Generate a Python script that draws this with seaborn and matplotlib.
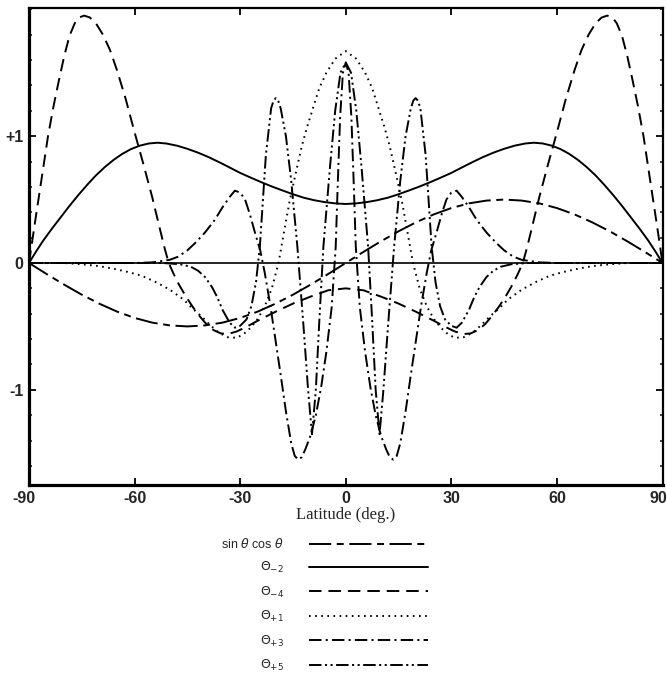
import numpy as np
import pandas as pd
import matplotlib
matplotlib.use("Agg")
import matplotlib.pyplot as plt
import matplotlib.transforms as mtransforms
import seaborn as sns
from matplotlib.ticker import FixedLocator

sns.set_style("ticks")
plt.rcParams["font.family"] = ["Liberation Sans", "DejaVu Sans"]
plt.rcParams["lines.scale_dashes"] = False
plt.rcParams["mathtext.fontset"] = "dejavusans"

# Hemisphere values (latitude >= 0); the even modes are mirrored,
# sin(lat)cos(lat) is odd about the equator.
lat_sc = [0, 5, 10, 15, 20, 25, 30, 35, 40, 45, 50, 55, 60, 65, 70, 75, 80, 85, 90]
sin_cos = [0.0, 0.087, 0.171, 0.25, 0.321, 0.383, 0.433, 0.47, 0.492, 0.5,
           0.492, 0.47, 0.433, 0.383, 0.321, 0.25, 0.171, 0.087, 0.0]

lat_m2 = [0, 3, 6, 9, 12, 15, 18, 21, 24, 27, 30, 33, 36, 39, 42, 45, 48, 51, 53.5,
          56, 58.5, 61, 63.5, 66, 68.5, 71, 73.5, 76, 78.5, 81, 83.5, 86, 88, 90]
theta_m2 = [0.465, 0.47, 0.48, 0.495, 0.515, 0.542, 0.572, 0.603, 0.637, 0.673, 0.71,
            0.753, 0.795, 0.835, 0.87, 0.90, 0.925, 0.942, 0.948, 0.942, 0.925, 0.898,
            0.86, 0.812, 0.755, 0.69, 0.615, 0.535, 0.45, 0.36, 0.27, 0.175, 0.09, 0.0]

lat_m4 = [0, 5, 10, 15, 20, 25, 28, 31, 33.5, 35.5, 37.5, 39.5, 41.5, 43.5, 45.5, 47.5,
          49, 50.3, 51.5, 53, 55, 57.5, 60, 62.5, 65, 67, 69, 71, 72.7, 74.3, 75.8, 77,
          78.5, 80, 81.5, 83, 84.6, 86.5, 88.3, 90]
theta_m4 = [-0.20, -0.215, -0.265, -0.32, -0.385, -0.455, -0.50, -0.54, -0.56, -0.555,
            -0.53, -0.485, -0.42, -0.345, -0.26, -0.165, -0.08, 0.0, 0.12, 0.29, 0.52,
            0.78, 1.03, 1.29, 1.52, 1.68, 1.80, 1.89, 1.935, 1.95, 1.935, 1.89, 1.79,
            1.63, 1.44, 1.24, 1.0, 0.65, 0.32, 0.0]

lat_p1 = [0, 3, 5.5, 7.5, 9.2, 11, 12.5, 14.2, 16, 17.5, 19.1, 21, 23, 25, 27, 29, 31,
          33.5, 36, 38.5, 41, 43.5, 46, 50, 54, 58, 62, 66, 70, 75, 80, 90]
theta_p1 = [1.67, 1.61, 1.50, 1.38, 1.23, 1.07, 0.92, 0.71, 0.48, 0.25, 0.0, -0.20,
            -0.34, -0.44, -0.51, -0.56, -0.59, -0.585, -0.55, -0.49, -0.42, -0.36,
            -0.29, -0.21, -0.15, -0.10, -0.07, -0.045, -0.025, -0.01, 0.0, 0.0]

lat_p3 = [0, 0.8, 1.6, 2.3, 2.85, 4, 5.5, 7, 8.5, 10, 11.5, 12.5, 13.5, 14.5, 15.5, 17,
          18.5, 20, 21.4, 23, 24.3, 25.8, 27.2, 28.6, 30, 31.5, 33, 35, 37.2, 40, 42.8,
          45, 47.6, 50, 55, 60, 90]
theta_p3 = [1.58, 1.50, 1.15, 0.6, 0.13, -0.35, -0.7, -0.98, -1.2, -1.36, -1.47, -1.53,
            -1.55, -1.52, -1.42, -1.17, -0.88, -0.6, -0.34, -0.08, 0.1, 0.24, 0.38, 0.50,
            0.555, 0.57, 0.52, 0.44, 0.34, 0.24, 0.157, 0.10, 0.05, 0.025, 0.005, 0.0, 0.0]

lat_p5 = [0, 1.5, 3, 4.5, 6.35, 7.5, 8.5, 9.6, 10.7, 12, 13.75, 15.5, 17, 18.5, 19.2,
          19.85, 20.5, 21.2, 22.7, 24.4, 25.5, 26.8, 28.2, 30, 31.5, 33, 35, 36.5, 38,
          40, 42, 44, 47, 52, 90]
theta_p5 = [1.58, 1.5, 1.2, 0.75, 0.13, -0.45, -1.0, -1.35, -1.0, -0.5, 0.13, 0.65, 1.0,
            1.22, 1.28, 1.30, 1.28, 1.22, 0.85, 0.13, -0.15, -0.34, -0.445, -0.495,
            -0.51, -0.47, -0.37, -0.27, -0.19, -0.11, -0.06, -0.03, -0.01, 0.0, 0.0]

x_ticks = [-90, -60, -30, 0, 30, 60, 90]
y_ticks = [-1, 0, 1]
y_tick_labels = ["-1", "0", "+1"]

labels = [r"sin $\theta$ cos $\theta$", r"$\Theta_{-2}$", r"$\Theta_{-4}$",
          r"$\Theta_{+1}$", r"$\Theta_{+3}$", r"$\Theta_{+5}$"]


def full_profile(lat, val, parity=1):
    lat = np.asarray(lat, float)
    val = np.asarray(val, float)
    return (np.concatenate([-lat[::-1], lat[1:]]),
            np.concatenate([parity * val[::-1], val[1:]]))


series = [
    (lat_sc, sin_cos, -1, (0, (16, 4, 5, 4))),
    (lat_m2, theta_m2, 1, "solid"),
    (lat_m4, theta_m4, 1, (0, (9, 5))),
    (lat_p1, theta_p1, 1, (0, (1.2, 3.2))),
    (lat_p3, theta_p3, 1, (0, (9, 3, 1.5, 3))),
    (lat_p5, theta_p5, 1, (0, (9, 2.5, 1.5, 2.5, 1.5, 2.5))),
]

fig = plt.figure(figsize=(6.67, 6.79), dpi=100)
ax = fig.add_axes([29 / 667, 1 - 485 / 679, (662.5 - 29) / 667, (485 - 8) / 679])

ax.axhline(0, color="black", lw=1.2, zorder=1)

handles = []
for (lat, val, parity, ls), name in zip(series, labels):
    x, y = full_profile(lat, val, parity)
    df = pd.DataFrame({"lat": x, "value": y})
    sns.lineplot(data=df, x="lat", y="value", ax=ax, color="black", lw=1.4,
                 linestyle=ls, sort=False, estimator=None)
    handles.append(ax.lines[-1])

ax.set_xlim(-90, 90)
ax.set_ylim(-1.75, 2.01)

ax.set_xticks(x_ticks)
ax.set_xticklabels([str(t) for t in x_ticks], fontsize=11.5, fontweight="bold")
ax.set_yticks(y_ticks)
ax.set_yticklabels(y_tick_labels, fontsize=11.5, fontweight="bold")
ax.yaxis.set_minor_locator(FixedLocator(np.round(np.arange(-1.6, 2.01, 0.2), 1)))
ax.tick_params(axis="both", which="major", direction="in", top=True, right=True,
               length=5, width=1.3, color="black")
ax.tick_params(axis="y", which="minor", direction="in", left=True, right=True,
               length=2.5, width=1.2)
ax.tick_params(axis="x", which="major", pad=4)
ax.tick_params(axis="y", which="major", pad=4)

# keep the end labels of the latitude axis inside the figure
xlabels = ax.get_xticklabels()
xlabels[0].set_transform(xlabels[0].get_transform()
                         + mtransforms.ScaledTranslation(-5 / 100, 0, fig.dpi_scale_trans))
xlabels[-1].set_horizontalalignment("right")
xlabels[-1].set_transform(xlabels[-1].get_transform()
                          + mtransforms.ScaledTranslation(5 / 100, 0, fig.dpi_scale_trans))

for side, w in [("left", 2.3), ("bottom", 2.3), ("top", 1.6), ("right", 1.6)]:
    ax.spines[side].set_linewidth(w)
    ax.spines[side].set_color("black")

ax.set_xlabel("Latitude (deg.)", fontsize=12, family="Liberation Serif", labelpad=1)
ax.set_ylabel("")

leg = ax.legend(handles=handles, labels=labels, loc="upper right",
                bbox_to_anchor=(428 / 667, 1 - 537 / 679),
                bbox_transform=fig.transFigure, frameon=False, markerfirst=False,
                handlelength=9.5, handletextpad=2.0, fontsize=9, labelspacing=0.75,
                borderpad=0, borderaxespad=0)

fig.savefig("out.png", dpi=100, facecolor="white")
